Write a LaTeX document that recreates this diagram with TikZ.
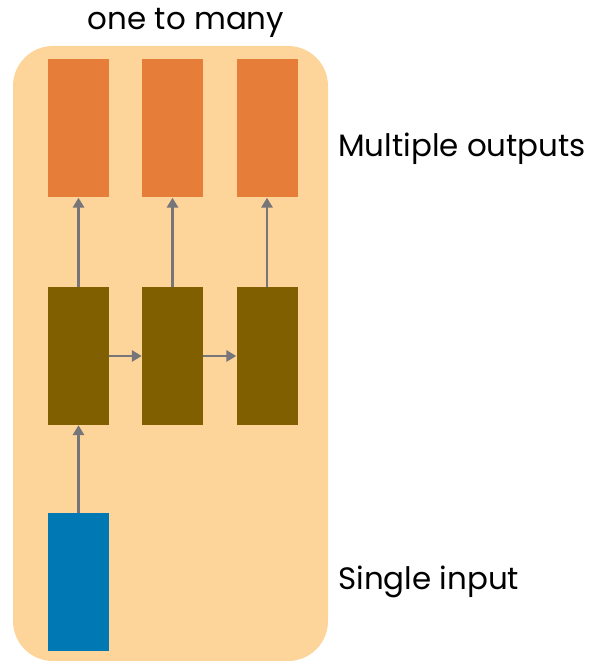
\documentclass[tikz,border=0pt]{standalone}
\usepackage{fontspec}
\setmainfont{Poppins}
\usetikzlibrary{arrows.meta}
\definecolor{panel}{HTML}{FDD49A}
\definecolor{outcol}{HTML}{E67E3A}
\definecolor{hidcol}{HTML}{7F5F00}
\definecolor{incol}{HTML}{0078B4}
\definecolor{linkcol}{HTML}{75757A}
\begin{document}
\begin{tikzpicture}[
  cell/.style={minimum width=1.525cm, minimum height=3.45cm, inner sep=0pt},
  label/.style={font=\fontsize{22}{26}\selectfont, inner sep=0pt},
  arrow/.style={-{Triangle[length=7pt,width=8pt]}, line width=1.5pt, draw=linkcol}
]
\useasboundingbox (0,0) rectangle (14.875,16.525);
\fill[panel, rounded corners=1cm] (0.325,0) rectangle (8.2,15.375);
\node[label] (title) at (4.65,15.95) {one to many};
\node (out1) [cell, fill=outcol] at (1.9625,13.3125) {};
\node (out2) [cell, fill=outcol] at (4.3125,13.3125) {};
\node (out3) [cell, fill=outcol] at (6.675,13.3125) {};
\node (hid1) [cell, fill=hidcol] at (1.9625,7.625) {};
\node (hid2) [cell, fill=hidcol] at (4.3125,7.625) {};
\node (hid3) [cell, fill=hidcol] at (6.675,7.625) {};
\node (in1) [cell, fill=incol] at (1.9625,1.9625) {};
\node[label, anchor=west] (outtext) at (8.45,12.8) {Multiple outputs};
\node[label, anchor=west] (intext) at (8.45,1.975) {Single input};
\draw[arrow] (in1) -- (hid1);
\draw[arrow] (hid1) -- (hid2);
\draw[arrow] (hid2) -- (hid3);
\draw[arrow] (hid1) -- (out1);
\draw[arrow] (hid2) -- (out2);
\draw[arrow] (hid3) -- (out3);
\end{tikzpicture}
\end{document}
